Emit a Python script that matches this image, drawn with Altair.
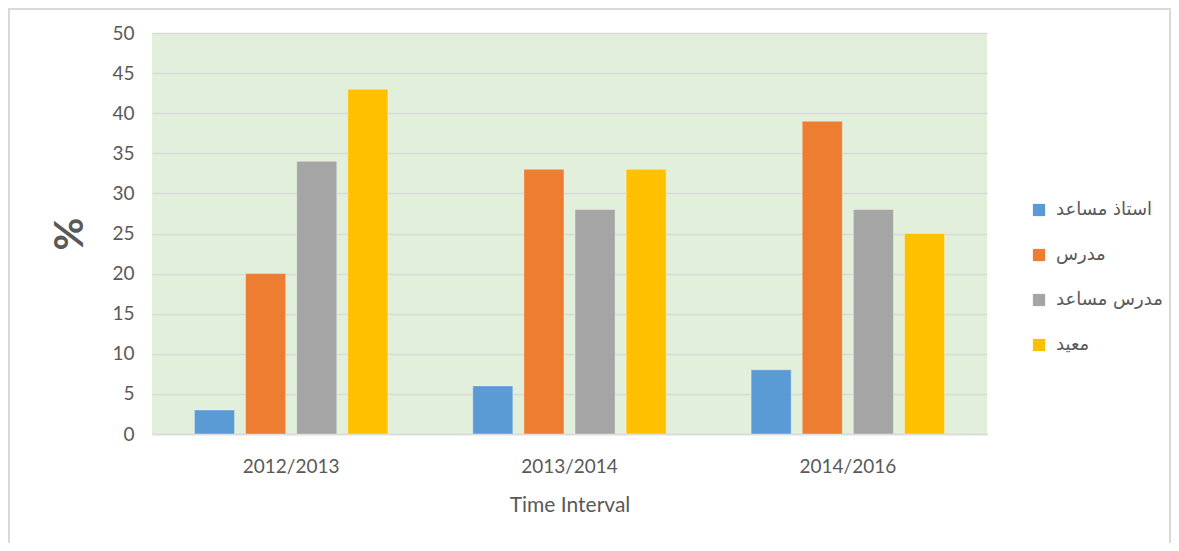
import altair as alt
import pandas as pd

periods = ["2012/2013", "2013/2014", "2014/2016"]
ranks = ["استاذ مساعد", "مدرس", "مدرس مساعد", "معيد"]
colors = ["#5B9BD5", "#ED7D31", "#A5A5A5", "#FFC000"]
values = {
    "استاذ مساعد": [3, 6, 8],
    "مدرس": [20, 33, 39],
    "مدرس مساعد": [34, 28, 28],
    "معيد": [43, 33, 25],
}

rows = []
for r in ranks:
    for p, v in zip(periods, values[r]):
        rows.append({"period": p, "rank": r, "value": v, "order": ranks.index(r)})
df = pd.DataFrame(rows)

bars = (
    alt.Chart(df)
    .mark_bar(stroke="white", strokeOpacity=0.35, strokeWidth=1)
    .encode(
        x=alt.X(
            "period:N",
            sort=periods,
            scale=alt.Scale(paddingInner=0, paddingOuter=0),
            axis=alt.Axis(
                title="Time Interval",
                labelAngle=0,
                labelFontSize=19,
                labelColor="#595959",
                labelFont="Lato",
                labelPadding=23,
                ticks=False,
                domainColor="#D9D9D9",
                domainWidth=1.5,
                titleFontSize=21,
                titleFont="Lato",
                titleColor="#595959",
                titleFontWeight="normal",
                titlePadding=18,
                grid=False,
            ),
        ),
        xOffset=alt.XOffset(
            "rank:N",
            sort=ranks,
            scale=alt.Scale(paddingInner=0.216, paddingOuter=0.83),
        ),
        y=alt.Y(
            "value:Q",
            scale=alt.Scale(domain=[0, 50]),
            axis=alt.Axis(
                title="%",
                values=list(range(0, 51, 5)),
                labelFontSize=19,
                labelColor="#595959",
                labelFont="Lato",
                labelPadding=18,
                ticks=False,
                domain=False,
                gridColor="#D9D9D9",
                gridWidth=1.5,
                titleFontSize=40,
                titleFont="Lato",
                titleFontWeight="bold",
                titleColor="#595959",
                titlePadding=21,
            ),
        ),
        color=alt.Color(
            "rank:N",
            sort=ranks,
            scale=alt.Scale(domain=ranks, range=colors),
            legend=alt.Legend(
                title=None,
                orient="none",
                legendX=878,
                legendY=168,
                symbolType="square",
                symbolSize=150,
                symbolStrokeWidth=0,
                labelFontSize=18,
                labelFont="DejaVu Sans",
                labelColor="#595959",
                rowPadding=27,
                labelOffset=8,
            ),
        ),
        order="order:Q",
    )
)

frame = (
    alt.Chart(pd.DataFrame({"k": [0]}))
    .mark_rect(fill=None, stroke="#D9D9D9", strokeWidth=2)
    .encode(
        x=alt.value(-143),
        x2=alt.value(1018),
        y=alt.value(-24),
        y2=alt.value(620),
    )
)

chart = (
    alt.layer(frame, bars)
    .properties(
        width=835,
        height=401,
        padding={"left": 144, "top": 25, "right": 184, "bottom": 109},
        autosize=alt.AutoSizeParams(type="none"),
        background="white",
    )
    .configure_view(fill="#E2EFDA", stroke=None)
)

chart.save("out.html", embed_options={"renderer": "svg", "actions": False})
